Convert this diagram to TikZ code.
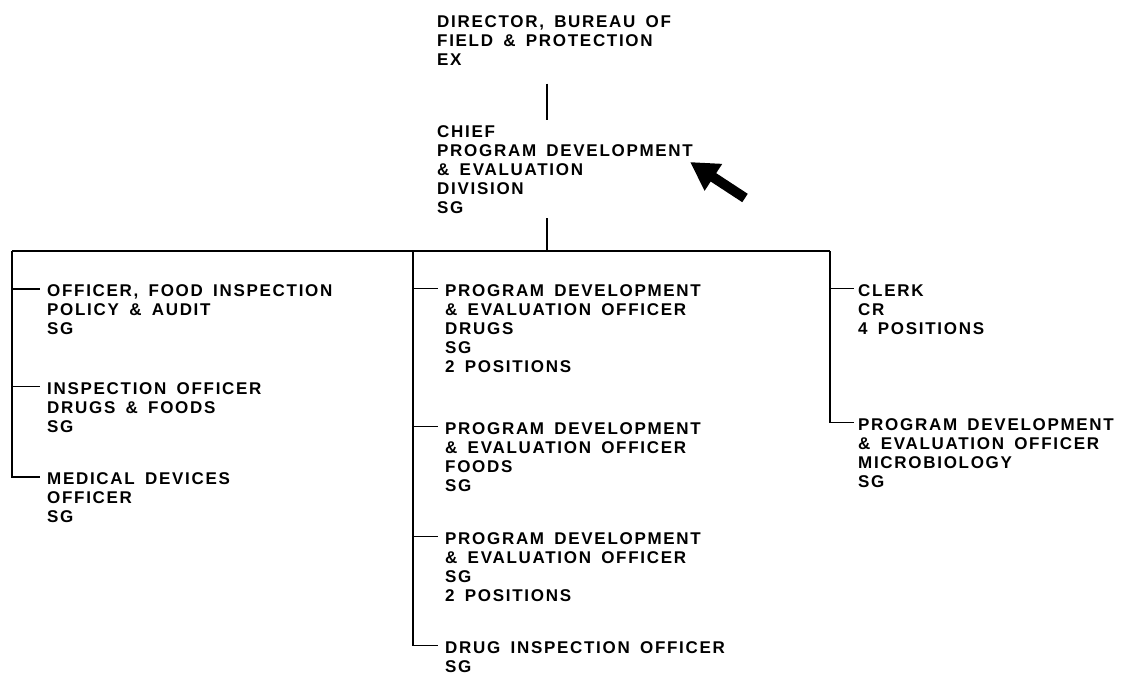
\documentclass[tikz,border=0pt]{standalone}
\usepackage{fontspec}
\setmainfont[LetterSpace=10, WordSpace=1.6]{Liberation Sans}
\usepackage{tikz}
\usetikzlibrary{arrows.meta, positioning}

\tikzset{
	post/.style={anchor=north west, align=left, inner sep=0pt, font=\bfseries\fontsize{17}{19.2}\selectfont},
	link/.style={line width=1.7pt},
}

\begin{document}
\begin{tikzpicture}[x=1pt, y=-1pt]
		\useasboundingbox (0,0) rectangle (1125,675);
		% top of the chart
		\node[post] (dir) at (437,15) {DIRECTOR, BUREAU OF\\FIELD \& PROTECTION\\EX};
		\node[post] (chief) at (437,125) {CHIEF\\PROGRAM DEVELOPMENT\\\& EVALUATION\\DIVISION\\SG};
		% left column
		\node[post] (fip) at (47,284.5) {OFFICER, FOOD INSPECTION\\POLICY \& AUDIT\\SG};
		\node[post] (ido) at (47,382) {INSPECTION OFFICER\\DRUGS \& FOODS\\SG};
		\node[post] (mdo) at (47,472.5) {MEDICAL DEVICES\\OFFICER\\SG};
		% middle column
		\node[post] (pdd) at (445,284) {PROGRAM DEVELOPMENT\\\& EVALUATION OFFICER\\DRUGS\\SG\\2 POSITIONS};
		\node[post] (pdf) at (445,422) {PROGRAM DEVELOPMENT\\\& EVALUATION OFFICER\\FOODS\\SG};
		\node[post] (pds) at (445,532) {PROGRAM DEVELOPMENT\\\& EVALUATION OFFICER\\SG\\2 POSITIONS};
		\node[post] (dio) at (445,641) {DRUG INSPECTION OFFICER\\SG};
		% right column
		\node[post] (clk) at (858,284) {CLERK\\CR\\4 POSITIONS};
		\node[post] (pdm) at (858,418) {PROGRAM DEVELOPMENT\\\& EVALUATION OFFICER\\MICROBIOLOGY\\SG};

		\coordinate (busL) at (12,251);
		\coordinate (colM) at (413,251);
		\coordinate (spine) at (547,251);
		\coordinate (busR) at (830,251);

		\draw[link] ([yshift=-18pt]dir.south -| spine) -- ([yshift=5pt]chief.north -| spine);
		\draw[link] ([yshift=-4pt]chief.south -| spine) -- (spine);
		\draw[link] (busL) -- (busR);
		\draw[link] (busL) |- ([xshift=-7pt,yshift=-4.5pt]mdo.north west);
		\draw[link] (colM) |- ([xshift=-7pt,yshift=-4.5pt]dio.north west);
		\draw[link] (busR) |- ([xshift=-4pt,yshift=-4.5pt]pdm.north west);
		\foreach \n in {fip,ido}
			\draw[link] ([yshift=-4.5pt]\n.north west -| busL) -- ([xshift=-7pt,yshift=-4.5pt]\n.north west);
		\foreach \n in {pdd,pdf,pds}
			\draw[link] ([yshift=-4.5pt]\n.north west -| colM) -- ([xshift=-7pt,yshift=-4.5pt]\n.north west);
		\draw[link] ([yshift=-4.5pt]clk.north west -| busR) -- ([xshift=-4pt,yshift=-4.5pt]clk.north west);

		% pointer
		\coordinate (ptip) at (690,162);
		\coordinate (ptail) at (745,198);
		\draw[line width=10pt, -{Triangle[length=28pt,width=30pt]}] (ptail) -- (ptip);
	\end{tikzpicture}
\end{document}
